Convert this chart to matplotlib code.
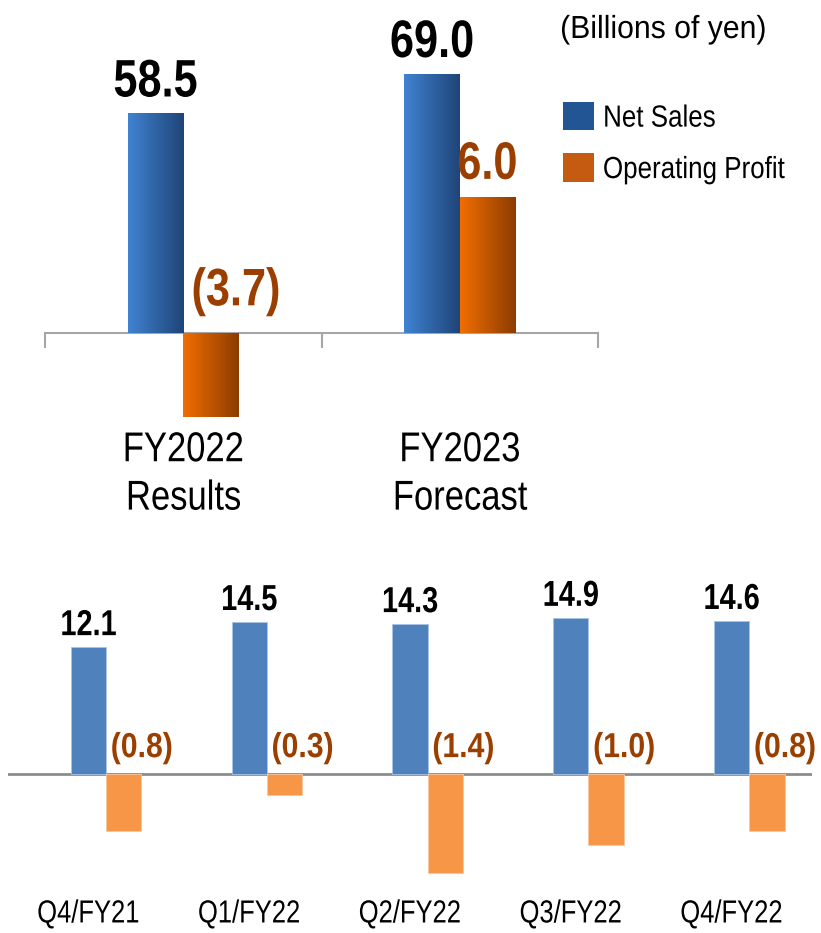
import numpy as np
import matplotlib
matplotlib.use("Agg")
from matplotlib import pyplot as plt
from matplotlib.colors import LinearSegmentedColormap
from matplotlib.patches import Patch
from matplotlib.patheffects import AbstractPathEffect
from matplotlib.transforms import Affine2D

plt.rcParams['font.family'] = ['Liberation Sans', 'DejaVu Sans']

# annual data (billions of yen)
fy_labels = ['FY2022\nResults', 'FY2023\nForecast']
fy_sales = [58.5, 69.0]
fy_profit = [-3.7, 6.0]

# quarterly data
q_labels = ['Q4/FY21', 'Q1/FY22', 'Q2/FY22', 'Q3/FY22', 'Q4/FY22']
q_sales = [12.1, 14.5, 14.3, 14.9, 14.6]
q_profit = [-0.8, -0.3, -1.4, -1.0, -0.8]

brown = '#9A3F00'
blue_grad = LinearSegmentedColormap.from_list('bg', ['#4083D2', '#1F4478'])
orange_grad = LinearSegmentedColormap.from_list('og', ['#F26E00', '#8C3C00'])


class Squeeze(AbstractPathEffect):
    """narrow the glyphs horizontally (no condensed font installed)"""

    def __init__(self, sx=0.82, anchor='center'):
        super().__init__()
        self.sx = sx
        self.anchor = anchor

    def draw_path(self, renderer, gc, tpath, affine, rgbFace=None):
        ext = tpath.get_extents(affine)
        cx = ext.x0 if self.anchor == 'left' else 0.5 * (ext.x0 + ext.x1)
        t = affine + Affine2D().translate(-cx, 0).scale(self.sx, 1).translate(cx, 0)
        renderer.draw_path(gc, tpath, t, rgbFace)


def fmt(v):
    return f"({abs(v):.1f})" if v < 0 else f"{v:.1f}"


def gradient_bars(ax, bars, cmap):
    grad = np.linspace(0, 1, 256).reshape(1, -1)
    for b in bars:
        x0, y0 = b.get_x(), b.get_y()
        im = ax.imshow(grad, extent=[x0, x0 + b.get_width(), y0, y0 + b.get_height()],
                       aspect='auto', cmap=cmap, zorder=3)
        im.set_clip_path(b)
        b.set_alpha(0)


fig = plt.figure(figsize=(8.21, 9.33), dpi=100)

# ---- top chart: annual ----
ax1 = fig.add_axes([45 / 821, 1 - 433 / 933, 553 / 821, 393 / 933])
ax1b = ax1.twinx()
x = np.arange(len(fy_labels))
w = 0.2
b1 = ax1.bar(x - w / 2, fy_sales, w, color='#3B70B5', zorder=2)
b2 = ax1b.bar(x + w / 2, fy_profit, w, color='#D06000', zorder=2)
gradient_bars(ax1, b1, blue_grad)
gradient_bars(ax1b, b2, orange_grad)

ax1.set_xlim(-0.5, 1.5)
ax1.set_ylim(-100 / 3.76, 293 / 3.76)
ax1b.set_ylim(-100 / 22.7, 293 / 22.7)

sq = [Squeeze(0.82)]
for xi, v in zip(x - w / 2, fy_sales):
    t = ax1.annotate(fmt(v), (xi, v), xytext=(0, 4), textcoords='offset points',
                     ha='center', va='bottom', fontsize=38, fontweight='bold', color='black')
    t.set_path_effects(sq)
for xi, v in zip(x + w / 2, fy_profit):
    if v < 0:
        t = ax1b.annotate(fmt(v), (xi, 0), xytext=(18, 30), textcoords='offset points',
                          ha='center', va='center', fontsize=38, fontweight='bold', color=brown)
    else:
        t = ax1b.annotate(fmt(v), (xi, v), xytext=(0, 5), textcoords='offset points',
                          ha='center', va='bottom', fontsize=38, fontweight='bold', color=brown)
    t.set_path_effects(sq)

for a in (ax1, ax1b):
    for s in ('top', 'right', 'left'):
        a.spines[s].set_visible(False)
    a.set_yticks([])
ax1b.spines['bottom'].set_visible(False)
ax1.spines['bottom'].set_position(('data', 0))
ax1.spines['bottom'].set_color('#A6A6A6')
ax1.spines['bottom'].set_linewidth(1.5)
ax1.set_xticks(x)
ax1.set_xticklabels(fy_labels, fontsize=30, linespacing=1.27)
ax1.set_xticks([-0.5, 0.5, 1.5], minor=True)
ax1.tick_params(axis='x', which='major', length=0, pad=70)
ax1.tick_params(axis='x', which='minor', length=11, width=1.5, color='#A6A6A6')
for lab in ax1.get_xticklabels():
    lab.set_path_effects([Squeeze(0.83)])
ax1.patch.set_alpha(0)

unit = fig.text(560 / 821, 1 - 30 / 933, '(Billions of yen)', fontsize=23, va='center', ha='left')
unit.set_path_effects([Squeeze(0.945, 'left')])
handles = [Patch(facecolor='#215593', label='Net Sales'),
           Patch(facecolor='#C55A11', label='Operating Profit')]
leg = fig.legend(handles=handles, loc='upper left', bbox_to_anchor=(563 / 821, 1 - 102 / 933),
                 frameon=False, fontsize=22, handlelength=1.0, handleheight=1.05,
                 handletextpad=0.3, labelspacing=0.65, borderpad=0, borderaxespad=0)
for lt in leg.get_texts():
    lt.set_path_effects([Squeeze(0.85, 'left')])

# ---- bottom chart: quarterly ----
ax2 = fig.add_axes([8 / 821, 1 - 896 / 933, 804 / 821, 336 / 933])
ax2b = ax2.twinx()
xq = np.arange(len(q_labels))
wq = 0.22
ax2.bar(xq, q_sales, wq, color='#4F81BD', edgecolor='#A9C4E6', linewidth=0.6, zorder=2)
ax2b.bar(xq + wq, q_profit, wq, color='#F79646', edgecolor='#FBC79C', linewidth=0.6, zorder=2)
ax2.set_xlim(-0.5, 4.5)
ax2.set_ylim(-122 / 10.47, 214 / 10.47)
ax2b.set_ylim(-122 / 71, 214 / 71)
ax2.axhline(0, color='#8C8C8C', lw=2, zorder=1)

for xi, v in zip(xq, q_sales):
    t = ax2.annotate(fmt(v), (xi, v), xytext=(0, 3), textcoords='offset points',
                     ha='center', va='bottom', fontsize=26, fontweight='bold', color='black')
    t.set_path_effects([Squeeze(0.8)])
for xi, v in zip(xq + wq, q_profit):
    t = ax2b.annotate(fmt(v), (xi, 0), xytext=(13, 19), textcoords='offset points',
                      ha='center', va='center', fontsize=25, fontweight='bold', color=brown)
    t.set_path_effects([Squeeze(0.87)])

for a in (ax2, ax2b):
    for s in a.spines.values():
        s.set_visible(False)
    a.set_yticks([])
ax2.set_xticks(xq)
ax2.set_xticklabels(q_labels, fontsize=23)
ax2.tick_params(axis='x', length=0, pad=2.5)
for lab in ax2.get_xticklabels():
    lab.set_path_effects([Squeeze(0.8)])
ax2.patch.set_alpha(0)

fig.savefig('out.png', dpi=100)
